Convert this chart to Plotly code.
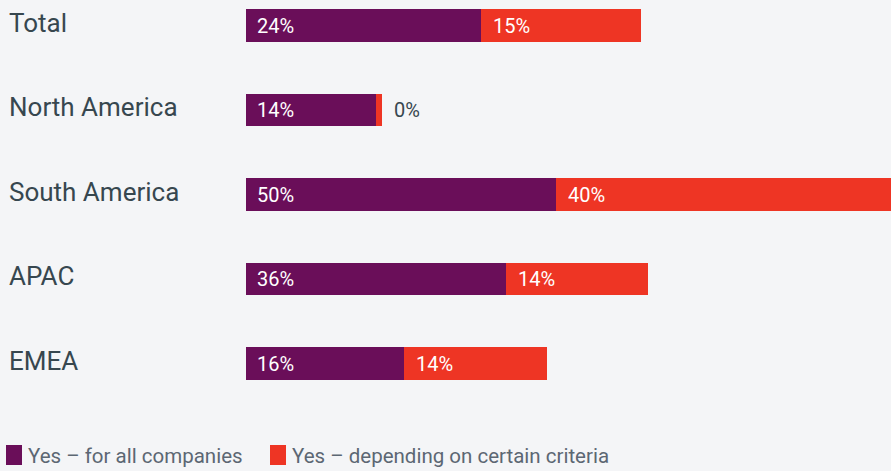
import plotly.graph_objects as go

# ---- data ----
regions = ["Total", "North America", "South America", "APAC", "EMEA"]
series_names = ["Yes – for all companies", "Yes – depending on certain criteria"]
# bar lengths as drawn (axis units)
len_all = [23.5, 13.0, 31.0, 26.0, 15.8]
len_crit = [16.0, 0.6, 33.5, 14.2, 14.3]
# printed labels
pct_all = [24, 14, 50, 36, 16]
pct_crit = [15, 0, 40, 14, 14]

# ---- style ----
PURPLE = "#6A0E59"
RED = "#EE3524"
BG = "#F4F5F7"
LABEL = "#37474F"
LEGEND_TXT = "#5C6773"
FONT = "Roboto"

W, H = 891, 471
ML, MR, MT, MB = 246, 0, 0, 41
PW, PH = W - ML - MR, H - MT - MB

fig = go.Figure()
fig.add_trace(go.Bar(y=regions, x=len_all, orientation="h", marker_color=PURPLE,
                     marker_line_width=0, width=0.39, name=series_names[0], showlegend=False))
fig.add_trace(go.Bar(y=regions, x=len_crit, orientation="h", marker_color=RED,
                     marker_line_width=0, width=0.39, name=series_names[1], showlegend=False))

ann = []
for i, r in enumerate(regions):
    # category labels on the left
    ann.append(dict(x=(7 - ML) / PW, xref="paper", y=r, yref="y", text=r,
                    xanchor="left", yanchor="middle", showarrow=False, yshift=3,
                    font=dict(family=FONT, size=26, color=LABEL)))
    # value labels
    ann.append(dict(x=0, y=r, xref="x", yref="y", text=f"{pct_all[i]}%",
                    xanchor="left", yanchor="middle", xshift=9, yshift=0, showarrow=False,
                    font=dict(family=FONT, size=20, color="white")))
    inside = len_crit[i] > 3
    ann.append(dict(x=len_all[i] if inside else len_all[i] + len_crit[i], y=r,
                    xref="x", yref="y", text=f"{pct_crit[i]}%",
                    xanchor="left", yanchor="middle", xshift=10, yshift=0, showarrow=False,
                    font=dict(family=FONT, size=20, color="white" if inside else LABEL)))

# custom legend
shapes = []
leg_items = [(6, PURPLE, series_names[0]), (270, RED, series_names[1])]
for px, col, name in leg_items:
    shapes.append(dict(type="rect", xref="paper", yref="paper",
                       x0=(px - ML) / PW, x1=(px + 16 - ML) / PW,
                       y0=(H - MB - 445) / PH, y1=(H - MB - 465) / PH,
                       fillcolor=col, line_width=0))
    ann.append(dict(x=(px + 20 - ML) / PW, xref="paper", y=(H - MB - 456) / PH, yref="paper",
                    text=name, xanchor="left", yanchor="middle", showarrow=False,
                    font=dict(family=FONT, size=20.5, color=LEGEND_TXT)))

fig.update_layout(
    width=W, height=H, barmode="stack",
    margin=dict(l=ML, r=MR, t=MT, b=MB, pad=0),
    paper_bgcolor=BG, plot_bgcolor=BG,
    xaxis=dict(range=[0, 64.5], visible=False, fixedrange=True),
    yaxis=dict(range=[4.787, -0.302], visible=False, fixedrange=True),
    annotations=ann, shapes=shapes,
    font=dict(family=FONT),
)
fig.write_html("out.html", config={"displayModeBar": False},
               post_script="document.body.style.margin='0px';document.body.style.background='" + BG + "';")
